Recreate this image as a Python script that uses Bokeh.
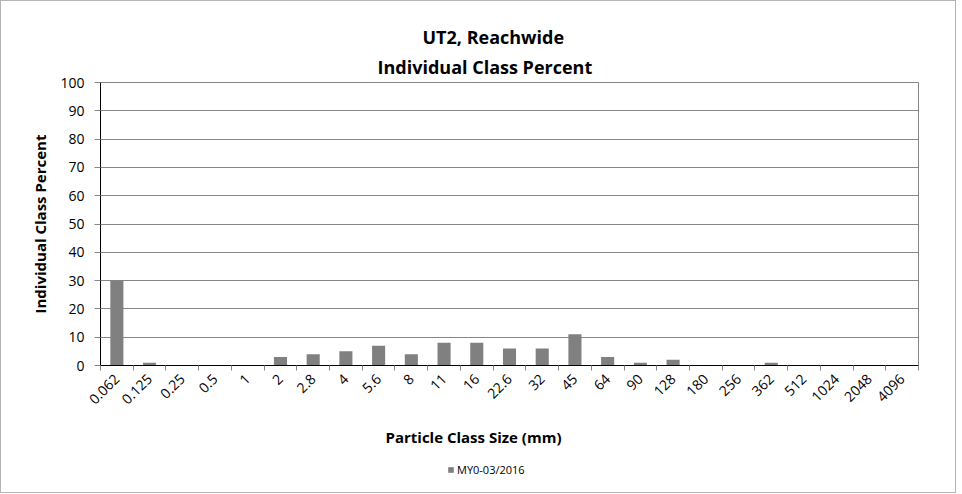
import numpy as np
from bokeh.plotting import figure
from bokeh.layouts import column
from bokeh.models import (Range1d, FixedTicker, Title, Legend, LegendItem,
                          ColumnDataSource)
from bokeh.embed import file_html
from bokeh.resources import INLINE

# ---- data ----
size_classes = ["0.062", "0.125", "0.25", "0.5", "1", "2", "2.8", "4", "5.6", "8",
                "11", "16", "22.6", "32", "45", "64", "90", "128", "180", "256",
                "362", "512", "1024", "2048", "4096"]
percent_my0 = [30, 1, 0, 0, 0, 3, 4, 5, 7, 4,
               8, 8, 6, 6, 11, 3, 1, 2, 0, 0,
               1, 0, 0, 0, 0]
series_name = "MY0-03/2016"
y_ticks = list(range(0, 101, 10))

FONT = "Open Sans"
BAR = "#808080"
n = len(size_classes)
centers = [i + 0.5 for i in range(n)]
bounds = list(range(n + 1))

src = ColumnDataSource(dict(x=centers, top=percent_my0, cls=size_classes))

p = figure(frame_width=818, frame_height=283, output_backend="svg",
           toolbar_location=None, title=None,
           x_range=Range1d(0, n), y_range=Range1d(0, 100),
           min_border_left=99, min_border_right=37, min_border_top=81,
           min_border_bottom=95)
p.background_fill_color = "white"
p.border_fill_color = "white"
p.outline_line_color = "#868686"
p.outline_line_width = 1

r = p.vbar(x="x", top="top", width=0.4, bottom=0, source=src,
           fill_color=BAR, line_color=None)

# grid
p.xgrid.visible = False
p.ygrid.ticker = FixedTicker(ticks=y_ticks)
p.ygrid.grid_line_color = "#868686"
p.ygrid.grid_line_width = 1

# y axis
p.yaxis.ticker = FixedTicker(ticks=y_ticks)
p.yaxis.axis_line_color = "black"
p.yaxis.major_tick_in = 0
p.yaxis.major_tick_out = 6
p.yaxis.major_tick_line_color = "#868686"
p.yaxis.minor_tick_line_color = None
p.yaxis.major_label_text_font = FONT
p.yaxis.major_label_text_font_size = "14px"
p.yaxis.major_label_text_color = "black"
p.yaxis.major_label_standoff = 10
p.yaxis.axis_label = "Individual Class Percent"
p.yaxis.axis_label_text_font = FONT
p.yaxis.axis_label_text_font_size = "15px"
p.yaxis.axis_label_text_font_style = "bold"
p.yaxis.axis_label_text_color = "black"
p.yaxis.axis_label_standoff = 7

# x axis
p.xaxis.ticker = FixedTicker(ticks=centers, minor_ticks=bounds)
p.xaxis.major_label_overrides = {c: s for c, s in zip(centers, size_classes)}
p.xaxis.major_label_orientation = np.pi / 4
p.xaxis.major_tick_line_color = None
p.xaxis.major_tick_in = 0
p.xaxis.major_tick_out = 0
p.xaxis.minor_tick_in = 0
p.xaxis.minor_tick_out = 5
p.xaxis.minor_tick_line_color = "#868686"
p.xaxis.axis_line_color = "black"
p.xaxis.major_label_text_font = FONT
p.xaxis.major_label_text_font_size = "14px"
p.xaxis.major_label_text_color = "black"
p.xaxis.major_label_standoff = 6

# x axis label as title below (shifted to canvas centre)
xlab = Title(text="Particle Class Size (mm)", align="left", offset=285,
             text_font=FONT, text_font_size="15px", text_font_style="bold",
             text_color="black", standoff=26)
p.add_layout(xlab, "below")

# titles
t2 = Title(text="Individual Class Percent", align="left", offset=277,
           text_font=FONT, text_font_size="18px", text_font_style="bold",
           text_color="black", standoff=8)
t1 = Title(text="UT2, Reachwide", align="left", offset=322,
           text_font=FONT, text_font_size="18px", text_font_style="bold",
           text_color="black", standoff=0)
p.add_layout(t2, "above")
p.add_layout(t1, "above")

# legend strip below the chart (its bars lie entirely outside its view)
p2 = figure(width=954, height=32, output_backend="svg", toolbar_location=None,
            title=None, x_range=Range1d(1000, 1001), y_range=Range1d(1000, 1001),
            x_axis_type=None, y_axis_type=None,
            min_border_left=99, min_border_right=37, min_border_top=0,
            min_border_bottom=0)
p2.grid.visible = False
p2.outline_line_color = None
p2.background_fill_color = "white"
p2.border_fill_color = "white"
r2 = p2.vbar(x="x", top="top", width=0.4, bottom=0, source=src,
             fill_color=BAR, line_color=None)
legend = Legend(items=[LegendItem(label=series_name, renderers=[r2])],
                orientation="horizontal", location=(347, 15),
                label_text_font=FONT, label_text_font_size="11px",
                label_text_color="black", glyph_width=7, glyph_height=7,
                label_height=14, label_standoff=3, border_line_color=None,
                background_fill_alpha=0, padding=1, margin=0)
p2.add_layout(legend, "center")

layout = column(p, p2, spacing=0,
                styles={"border": "1px solid #b4b4b4"})

open("out.html", "w").write(file_html(layout, INLINE))
